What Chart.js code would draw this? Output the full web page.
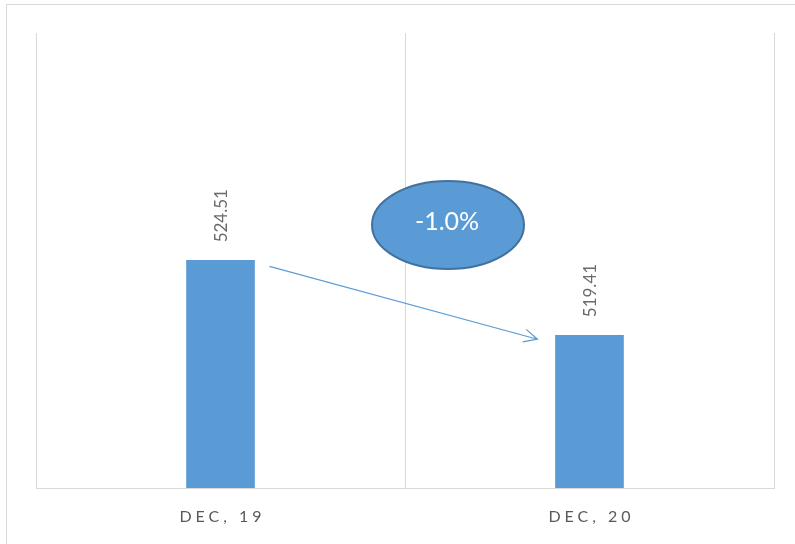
<!DOCTYPE html>
<html>
<head>
<meta charset="utf-8">
<script src="https://cdn.jsdelivr.net/npm/chart.js"></script>
<style>
    html, body { margin: 0; padding: 0; background: #fff; overflow: hidden; }
    canvas { display: block; }
</style>
</head>
<body>
<canvas id="myChart" width="795" height="544"></canvas>
<script>
// monthly snapshot, two periods
let periodLabels = ['DEC, 19', 'DEC, 20'];
let periodValues = [524.51, 519.41];

let axisMin = 509;
let axisMax = 540;

let barColor = '#5b9bd5';
let gridColor = '#d9d9d9';

// percent change from first to last period
let changePct = (periodValues[1] - periodValues[0]) / periodValues[0] * 100;
let changeText = changePct.toFixed(1) + '%';

// frame, category labels, value labels, arrow and change bubble
let decorPlugin = {
    id: 'decor',
    beforeDraw: function(chart) {
        let ctx = chart.ctx;
        ctx.save();
        ctx.strokeStyle = gridColor;
        ctx.lineWidth = 1;
        ctx.strokeRect(6.5, 4.5, 1000, 1000);
        ctx.restore();
    },
    afterDraw: function(chart) {
        let ctx = chart.ctx;
        let xScale = chart.scales.x;
        let meta = chart.getDatasetMeta(0);

        // category labels, spaced out
        ctx.save();
        ctx.font = '16px Lato, "Liberation Sans", sans-serif';
        ctx.fillStyle = '#595959';
        ctx.textBaseline = 'middle';
        ctx.textAlign = 'center';
        ctx.letterSpacing = '4px';
        chart.data.labels.forEach(function(lbl, i) {
            let x = xScale.getPixelForTick(i);
            ctx.fillText(lbl, x + 2, chart.chartArea.bottom + 29);
        });
        ctx.restore();

        // value labels, rotated above each bar
        ctx.save();
        ctx.font = '17px Lato, "Liberation Sans", sans-serif';
        ctx.fillStyle = '#6b6b6b';
        ctx.textBaseline = 'middle';
        ctx.textAlign = 'left';
        meta.data.forEach(function(bar, i) {
            ctx.save();
            ctx.translate(bar.x + 1, bar.y - 18);
            ctx.rotate(-Math.PI / 2);
            ctx.fillText(periodValues[i].toFixed(2), 0, 0);
            ctx.restore();
        });
        ctx.restore();

        // arrow between the bars
        let b0 = meta.data[0];
        let b1 = meta.data[1];
        let x0 = b0.x + b0.width / 2 + 15;
        let y0 = b0.y + 6;
        let x1 = b1.x - b1.width / 2 - 18;
        let y1 = b1.y + 4;
        let ang = Math.atan2(y1 - y0, x1 - x0);
        let head = 15;
        ctx.save();
        ctx.strokeStyle = barColor;
        ctx.lineWidth = 1.2;
        ctx.beginPath();
        ctx.moveTo(x0, y0);
        ctx.lineTo(x1, y1);
        ctx.moveTo(x1 - head * Math.cos(ang - 0.45), y1 - head * Math.sin(ang - 0.45));
        ctx.lineTo(x1, y1);
        ctx.lineTo(x1 - head * Math.cos(ang + 0.45), y1 - head * Math.sin(ang + 0.45));
        ctx.stroke();
        ctx.restore();

        // change bubble
        let cx = (b0.x + b1.x) / 2 + 43;
        let cy = chart.chartArea.top + 192;
        ctx.save();
        ctx.beginPath();
        ctx.ellipse(cx, cy, 76, 44, 0, 0, Math.PI * 2);
        ctx.fillStyle = barColor;
        ctx.fill();
        ctx.lineWidth = 2;
        ctx.strokeStyle = '#41719c';
        ctx.stroke();
        ctx.fillStyle = '#ffffff';
        ctx.font = '25px Lato, "Liberation Sans", sans-serif';
        ctx.textAlign = 'center';
        ctx.textBaseline = 'middle';
        ctx.fillText(changeText, cx - 1, cy - 3);
        ctx.restore();
    }
};

let ctx = document.getElementById('myChart').getContext('2d');
let chart = new Chart(ctx, {
    type: 'bar',
    data: {
        labels: periodLabels,
        datasets: [{
            data: periodValues,
            backgroundColor: barColor,
            borderWidth: 0,
            barThickness: 68
        }]
    },
    options: {
        responsive: false,
        animation: false,
        events: [],
        layout: {
            padding: { left: 36, top: 33, right: 21, bottom: 56 }
        },
        plugins: {
            legend: { display: false },
            tooltip: { enabled: false }
        },
        scales: {
            x: {
                grid: {
                    offset: true,
                    color: gridColor,
                    lineWidth: 1,
                    drawTicks: false
                },
                border: { color: gridColor, width: 1 },
                ticks: { display: false }
            },
            y: {
                display: false,
                min: axisMin,
                max: axisMax
            }
        }
    },
    plugins: [decorPlugin]
});
</script>
</body>
</html>
